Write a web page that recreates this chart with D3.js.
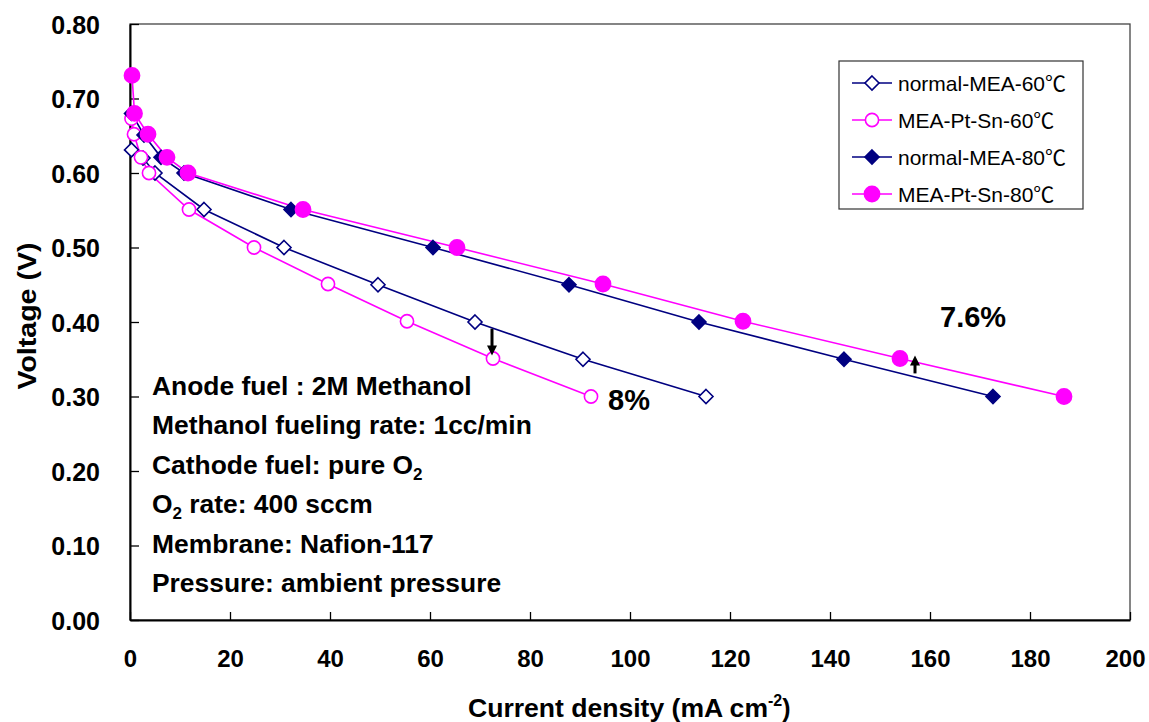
<!DOCTYPE html>
<html>
<head>
<meta charset="utf-8">
<script src="https://cdn.jsdelivr.net/npm/d3@7"></script>
<style>
  body { margin: 0; background: #fff; }
  svg { display: block; }
  text { font-family: "Liberation Sans", Arial, "Noto Sans CJK SC", sans-serif; }
</style>
</head>
<body>
<svg id="chart" width="1149" height="722"></svg>
<script>
// ---- data (current density mA/cm2, voltage V) ----
const seriesNames = ["normal-MEA-60℃", "MEA-Pt-Sn-60℃", "normal-MEA-80℃", "MEA-Pt-Sn-80℃"];
const normal60 = [[0.3,0.631],[2.6,0.620],[5.0,0.600],[14.8,0.551],[30.8,0.500],[49.6,0.450],[69.0,0.400],[90.6,0.350],[115.2,0.300]];
const ptsn60   = [[0.3,0.673],[0.8,0.652],[2.2,0.621],[3.8,0.600],[11.8,0.551],[24.8,0.500],[39.6,0.451],[55.4,0.401],[72.6,0.351],[92.2,0.300]];
const normal80 = [[0.3,0.680],[2.8,0.651],[6.2,0.621],[10.8,0.600],[32.2,0.551],[60.6,0.500],[87.8,0.450],[113.8,0.400],[142.8,0.350],[172.6,0.300]];
const ptsn80   = [[0.4,0.731],[0.9,0.680],[3.6,0.652],[7.4,0.621],[11.6,0.600],[34.6,0.551],[65.4,0.500],[94.6,0.451],[122.6,0.401],[154.0,0.351],[186.8,0.300]];
const xTicks = [0,20,40,60,80,100,120,140,160,180,200];
const yTicks = [0,0.1,0.2,0.3,0.4,0.5,0.6,0.7,0.8];
const conditions = ["Anode fuel : 2M Methanol", "Methanol fueling rate: 1cc/min", "Cathode fuel: pure O|2", "O|2| rate: 400 sccm", "Membrane: Nafion-117", "Pressure: ambient pressure"];
const arrows = [{x:72.4, y0:0.391, y1:0.355}, {x:157.0, y0:0.331, y1:0.355}];
const pctLabels = [{x:95.6, y:0.282, t:"8%"}, {x:162.0, y:0.393, t:"7.6%"}];

const series = [
  {name: seriesNames[0], data: normal60, color: "#000080", shape: "diamond", fill: "#fff"},
  {name: seriesNames[1], data: ptsn60,   color: "#FF00FF", shape: "circle",  fill: "#fff"},
  {name: seriesNames[2], data: normal80, color: "#000080", shape: "diamond", fill: "#000080"},
  {name: seriesNames[3], data: ptsn80,   color: "#FF00FF", shape: "circle",  fill: "#FF00FF"}
];

const svg = d3.select("#chart");
const L = 130, R = 1130, T = 24, B = 620;
const x = d3.scaleLinear().domain([0,200]).range([L,R]);
const y = d3.scaleLinear().domain([0,0.8]).range([B,T]);

// frame
svg.append("rect").attr("x",L).attr("y",T).attr("width",R-L).attr("height",B-T)
  .attr("fill","none").attr("stroke","#444").attr("stroke-width",1.3);

// axes
const xAxis = svg.append("g").attr("transform",`translate(0,${B})`)
  .call(d3.axisBottom(x).tickValues(xTicks).tickSizeInner(-8).tickSizeOuter(0).tickPadding(30).tickFormat(d3.format("d")));
const yAxis = svg.append("g").attr("transform",`translate(${L},0)`)
  .call(d3.axisLeft(y).tickValues(yTicks).tickSizeInner(-9).tickSizeOuter(0).tickPadding(30).tickFormat(d3.format(".2f")));
[xAxis,yAxis].forEach(g=>{
  g.select(".domain").attr("stroke","#000").attr("stroke-width",2);
  g.selectAll(".tick line").attr("stroke","#000").attr("stroke-width",1.3);
  g.selectAll(".tick text").attr("fill","#000").style("font-weight","bold")
   .style("font-family",'"Liberation Sans", Arial, sans-serif');
});
yAxis.selectAll(".tick text").style("font-size","25px").attr("dy","0.36em");
xAxis.selectAll(".tick text").style("font-size","24px").attr("dy","0").attr("y",47)
  .attr("x", d => d === 200 ? -5 : 0);

// axis titles
const xt = svg.append("text").attr("x",468).attr("y",717)
  .style("font-size","25px").style("font-weight","bold");
xt.append("tspan").attr("textLength",300).attr("lengthAdjust","spacingAndGlyphs").text("Current density (mA cm");
xt.append("tspan").attr("dy",-11).style("font-size","16px").text("-2");
xt.append("tspan").attr("dy",11).text(")");

svg.append("text").attr("transform","translate(36,316) rotate(-90)").attr("text-anchor","middle")
  .attr("textLength",147).attr("lengthAdjust","spacingAndGlyphs")
  .style("font-size","25px").style("font-weight","bold").text("Voltage (V)");

// lines
const line = d3.line().x(d=>x(d[0])).y(d=>y(d[1]));
series.forEach(s=>{
  svg.append("path").datum(s.data).attr("d",line).attr("fill","none")
    .attr("stroke",s.color).attr("stroke-width",1.6);
});
// markers
function drawMarker(g, s, cx, cy){
  if (s.shape==="diamond"){
    const r = 7;
    g.append("path").attr("d",`M${cx},${cy-r}L${cx+r},${cy}L${cx},${cy+r}L${cx-r},${cy}Z`)
      .attr("fill",s.fill).attr("stroke",s.color).attr("stroke-width",1.6);
  } else {
    const r = s.fill==="#fff" ? 6.6 : 7.6;
    g.append("circle").attr("cx",cx).attr("cy",cy).attr("r",r)
      .attr("fill",s.fill).attr("stroke",s.color).attr("stroke-width",1.6);
  }
}
series.forEach(s=>{
  const g = svg.append("g");
  s.data.forEach(d=>drawMarker(g, s, x(d[0]), y(d[1])));
});

// arrows
arrows.forEach(a=>{
  const x0 = x(a.x), ya = y(a.y0), yb = y(a.y1);
  const dir = yb > ya ? 1 : -1;
  svg.append("line").attr("x1",x0).attr("x2",x0).attr("y1",ya).attr("y2",yb - dir*7)
    .attr("stroke","#000").attr("stroke-width",3);
  svg.append("path").attr("d",`M${x0},${yb}L${x0-5},${yb-dir*10}L${x0+5},${yb-dir*10}Z`).attr("fill","#000");
});
// percentage labels
pctLabels.forEach(p=>{
  svg.append("text").attr("x",x(p.x)).attr("y",y(p.y)).style("font-size","29px").style("font-weight","bold").text(p.t);
});

// condition text
conditions.forEach((c,i)=>{
  const t = svg.append("text").attr("x",152).attr("y",395 + i*39.4)
    .style("font-size","26.4px").style("font-weight","bold");
  const parts = c.split("|");
  parts.forEach((p,j)=>{
    if (j % 2 === 1) t.append("tspan").attr("dy",6).style("font-size","17px").text(p);
    else if (j > 0) t.append("tspan").attr("dy",-6).text(p);
    else t.append("tspan").text(p);
  });
});

// legend
const lg = svg.append("g");
lg.append("rect").attr("x",839).attr("y",61).attr("width",244).attr("height",148)
  .attr("fill","#fff").attr("stroke","#333").attr("stroke-width",1.2);
series.forEach((s,i)=>{
  const cy = 83 + i*37;
  lg.append("line").attr("x1",852).attr("x2",892).attr("y1",cy).attr("y2",cy)
    .attr("stroke",s.color).attr("stroke-width",1.6);
  drawMarker(lg, s, 872, cy);
  lg.append("text").attr("x",898).attr("y",cy).attr("dy","0.36em")
    .style("font-size","21px").text(s.name);
});
</script>
</body>
</html>
